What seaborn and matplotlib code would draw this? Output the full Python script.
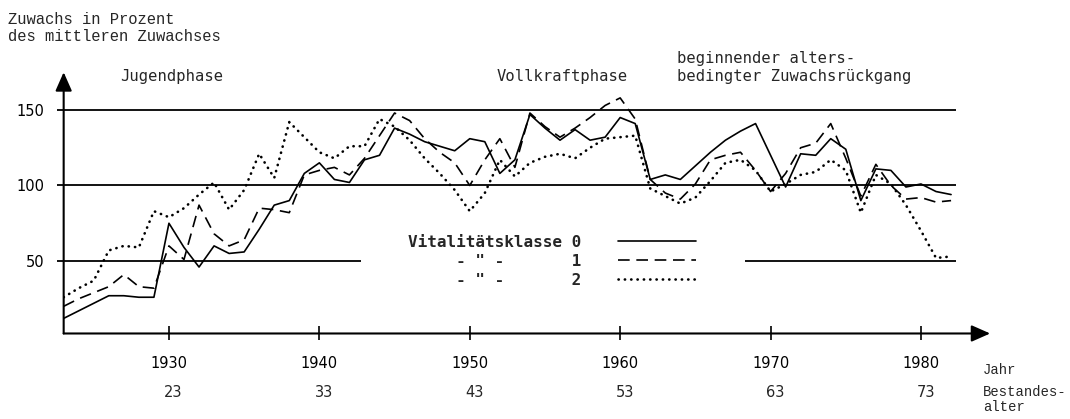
import numpy as np
import pandas as pd
import matplotlib
matplotlib.use("Agg")
import matplotlib.pyplot as plt
import seaborn as sns

# ---------------- data ----------------
years = np.arange(1923, 1983)
klasse0 = [12, 17, 22, 27, 27, 26, 26, 75, 59, 46,
           60, 55, 56, 71, 87, 90, 108, 115, 104, 102,
           117, 120, 138, 134, 129, 126, 123, 131, 129, 108,
           117, 147, 138, 130, 137, 130, 132, 145, 141, 104,
           107, 104, 113, 122, 130, 136, 141, 120, 99, 121,
           120, 131, 124, 90, 111, 110, 99, 101, 96, 94]
klasse1 = [20, 25, 29, 33, 41, 33, 32, 60, 51, 87,
           68, 60, 64, 85, 84, 82, 107, 110, 112, 107,
           118, 133, 148, 143, 131, 122, 115, 100, 117, 131,
           112, 148, 139, 132, 138, 145, 153, 158, 144, 104,
           95, 91, 101, 117, 120, 122, 110, 96, 108, 125,
           128, 141, 118, 93, 114, 100, 91, 92, 89, 90]
klasse2 = [26, 32, 37, 57, 60, 59, 83, 79, 85, 94,
           102, 84, 97, 121, 105, 142, 132, 122, 118, 126,
           126, 144, 139, 130, 118, 108, 97, 83, 95, 117,
           106, 115, 119, 121, 118, 125, 131, 132, 133, 98,
           93, 88, 92, 103, 115, 117, 110, 96, 101, 107,
           109, 117, 110, 82, 107, 101, 87, 70, 52, 53]
tick_years = [1930, 1940, 1950, 1960, 1970, 1980]
tick_ages = ["23", "33", "43", "53", "63", "73"]
y_ticks = [50, 100, 150]
class_names = ["0", "1", "2"]
legend_labels = ["Vitalitätsklasse 0",
                 '     - " -       1',
                 '     - " -       2']
phase_labels = ["Jugendphase", "Vollkraftphase",
                "beginnender alters-\nbedingter Zuwachsrückgang"]

# ---------------- style ----------------
sns.set_style("white")
plt.rcParams["font.family"] = ["DejaVu Sans"]
MONO = "DejaVu Sans Mono"
TYPE = "Liberation Mono"

df = pd.DataFrame({
    "Jahr": np.tile(years, 3),
    "Zuwachs": klasse0 + klasse1 + klasse2,
    "Klasse": np.repeat(class_names, len(years)),
})

W, H = 1070, 419
fig = plt.figure(figsize=(W / 100, H / 100), dpi=100)
ax = fig.add_axes([0.0595, 0.2041, 0.8659, 0.6235])

dash_map = {"0": "", "1": (7, 4), "2": (0.1, 2.3)}
sns.lineplot(data=df, x="Jahr", y="Zuwachs", style="Klasse", style_order=class_names,
             dashes=dash_map, color="black", linewidth=1.2, estimator=None,
             legend=False, ax=ax)
lines = ax.lines[:3]
lines[2].set_linewidth(1.9)
lines[2].set_dash_capstyle("round")

ax.set_xlim(1923, 1984.6)
ax.set_ylim(2, 175)
for s in ax.spines.values():
    s.set_visible(False)
ax.set_xlabel("")
ax.set_ylabel("")

# reference lines
x0, x1 = 1922.55, 1982.3
ax.hlines([150, 100], x0, x1, color="black", lw=1.3, clip_on=False)
ax.hlines([50, 50], [x0, 1968.3], [1942.8, x1], color="black", lw=1.3, clip_on=False)

# axes arrows
arrow = dict(arrowstyle="-|>,head_length=0.95,head_width=0.42", mutation_scale=12,
             lw=1.5, color="black", shrinkA=0, shrinkB=0)
ax.annotate("", xy=(0, 1), xytext=(0, 0), xycoords="axes fraction", arrowprops=arrow)
ax.annotate("", xy=(1, 0), xytext=(0, 0), xycoords="axes fraction", arrowprops=arrow)

# ticks
ax.set_xticks(tick_years)
ax.set_xticklabels([str(y) for y in tick_years])
ax.tick_params(axis="x", bottom=True, direction="inout", length=10, width=1.2,
               pad=11, labelsize=10.5, colors="black")
ax.set_yticks(y_ticks)
ax.set_yticklabels([str(v) for v in y_ticks])
ax.tick_params(axis="y", left=False, length=0, pad=14, labelsize=10.5, colors="black")

# age row
for yr, age in zip(tick_years, tick_ages):
    ax.text(yr + 0.3, -0.226, age, transform=ax.get_xaxis_transform(),
            ha="center", va="center", fontsize=10.5)


def ft(x, y, s, **kw):
    fig.text(x / W, 1 - y / H, s, **kw)


ft(8, 12, "Zuwachs in Prozent\ndes mittleren Zuwachses", va="top", ha="left",
   family=TYPE, fontsize=11.2, linespacing=1.2)
ft(120, 76, phase_labels[0], va="center", ha="left", family=MONO, fontsize=11.2)
ft(497, 76, phase_labels[1], va="center", ha="left", family=MONO, fontsize=11.2)
ft(677, 51, phase_labels[2], va="top", ha="left", family=MONO, fontsize=11.2,
   linespacing=1.25)
ft(983, 370, "Jahr", va="center", ha="left", family=TYPE, fontsize=10)
ft(983, 385, "Bestandes-\nalter", va="top", ha="left", family=TYPE, fontsize=10,
   linespacing=1.1)

# legend
leg = ax.legend(lines, legend_labels, loc="upper left",
                bbox_to_anchor=(408 / W, 1 - 235 / H), bbox_transform=fig.transFigure,
                frameon=False, markerfirst=False, borderpad=0, borderaxespad=0,
                handlelength=4.9, handletextpad=2.3, labelspacing=0.25,
                prop={"family": MONO, "size": 11.5, "weight": "bold"})

fig.savefig("out.png", dpi=100, facecolor="white")
